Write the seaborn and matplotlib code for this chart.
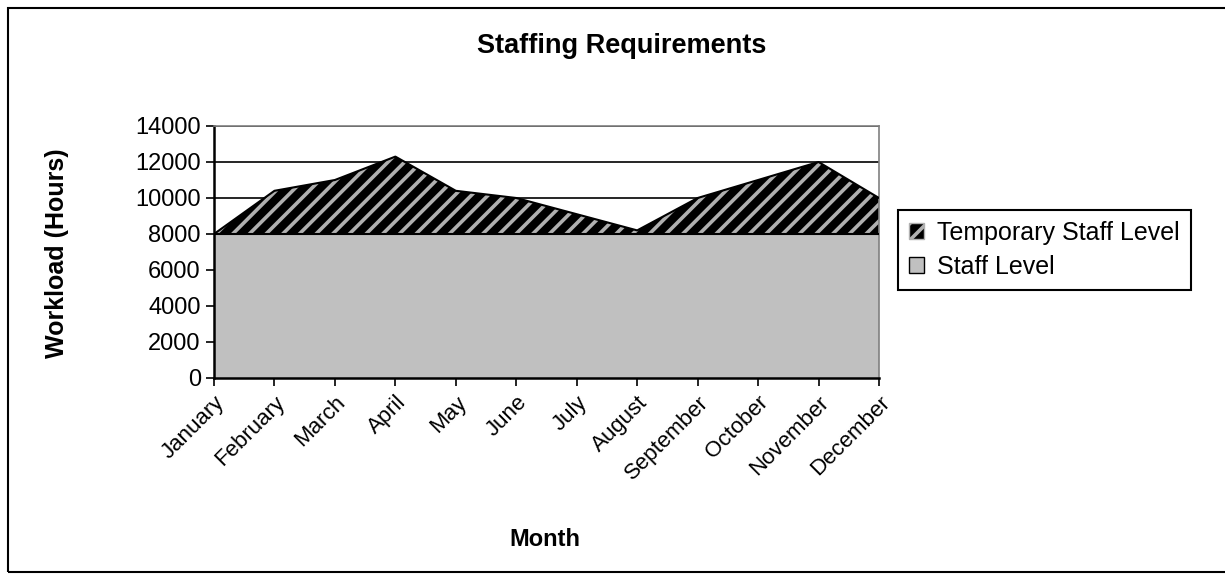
import pandas as pd
import matplotlib.pyplot as plt
import seaborn as sns
from matplotlib.patches import Patch, Rectangle

# Data
months = ["January", "February", "March", "April", "May", "June",
          "July", "August", "September", "October", "November", "December"]
staff_level = [8000] * 12
temporary_level = [0, 2400, 3000, 4300, 2400, 2000, 1100, 200, 2000, 3000, 4000, 2000]


def plot_staffing():
    df = pd.DataFrame({"month": months, "staff": staff_level, "temp": temporary_level})
    df["pos"] = range(len(df))
    df["total"] = df["staff"] + df["temp"]

    sns.set_style("white")
    plt.rcParams["font.family"] = ["Liberation Sans", "DejaVu Sans"]
    plt.rcParams["text.color"] = "black"
    plt.rcParams["xtick.color"] = "black"
    plt.rcParams["ytick.color"] = "black"
    plt.rcParams["hatch.linewidth"] = 2.6

    fig = plt.figure(figsize=(12.25, 5.8), dpi=100)
    ax = fig.add_axes([214 / 1225, 1 - 378 / 580, 665 / 1225, 252 / 580])

    # stacked areas
    ax.fill_between(df["pos"], 0, df["staff"], facecolor="#c0c0c0",
                    edgecolor="none", zorder=2)
    ax.fill_between(df["pos"], df["staff"], df["total"], facecolor="black",
                    edgecolor="#b0b0b0", hatch="//", linewidth=0, zorder=2)
    sns.lineplot(data=df, x="pos", y="staff", color="black", lw=1.5, ax=ax, zorder=3)
    sns.lineplot(data=df, x="pos", y="total", color="black", lw=1.5, ax=ax, zorder=3)

    ax.set_xlim(0, len(months) - 1)
    ax.set_ylim(0, 14000)
    ax.set_yticks(range(0, 14001, 2000))
    ax.set_xticks(df["pos"])
    ax.set_xticklabels(months, rotation=45, ha="right", rotation_mode="anchor")
    ax.tick_params(axis="both", labelsize=17, direction="out", length=6,
                   width=1.2, color="black", labelcolor="black", left=True, bottom=True)
    ax.tick_params(axis="x", labelsize=16, pad=4)
    ax.set_xlabel("")
    ax.set_ylabel("")

    ax.yaxis.grid(True, color="black", lw=1.2)
    ax.set_axisbelow(True)
    for side in ["top", "right"]:
        ax.spines[side].set_color("#808080")
        ax.spines[side].set_linewidth(1.2)
    for side in ["left", "bottom"]:
        ax.spines[side].set_color("black")
        ax.spines[side].set_linewidth(1.8)

    # titles
    fig.text(622 / 1225, 1 - 46 / 580, "Staffing Requirements", fontsize=19.5,
             fontweight="bold", ha="center", va="center")
    fig.text(57 / 1225, 1 - 253 / 580, "Workload (Hours)", fontsize=18,
             fontweight="bold", rotation=90, ha="center", va="center")
    fig.text(545 / 1225, 1 - 540 / 580, "Month", fontsize=17,
             fontweight="bold", ha="center", va="center")

    # legend
    handles = [
        Patch(facecolor="black", edgecolor="#b0b0b0", hatch="//", label="Temporary Staff Level"),
        Patch(facecolor="#c0c0c0", edgecolor="black", label="Staff Level"),
    ]
    leg = fig.legend(handles=handles, loc="upper left",
                     bbox_to_anchor=(898 / 1225, 1 - 210 / 580), borderaxespad=0,
                     fontsize=18, handlelength=0.6, handleheight=0.6,
                     handletextpad=0.5, labelspacing=0.4, borderpad=0.45,
                     fancybox=False, framealpha=1, edgecolor="black")
    leg.get_frame().set_linewidth(1.5)

    # outer chart border
    fig.patches.append(Rectangle((8 / 1225, 8 / 580), 1.0, 1 - 16 / 580,
                                 transform=fig.transFigure, fill=False,
                                 edgecolor="black", lw=1.5))

    fig.savefig("out.png", dpi=100)


if __name__ == "__main__":
    plot_staffing()
